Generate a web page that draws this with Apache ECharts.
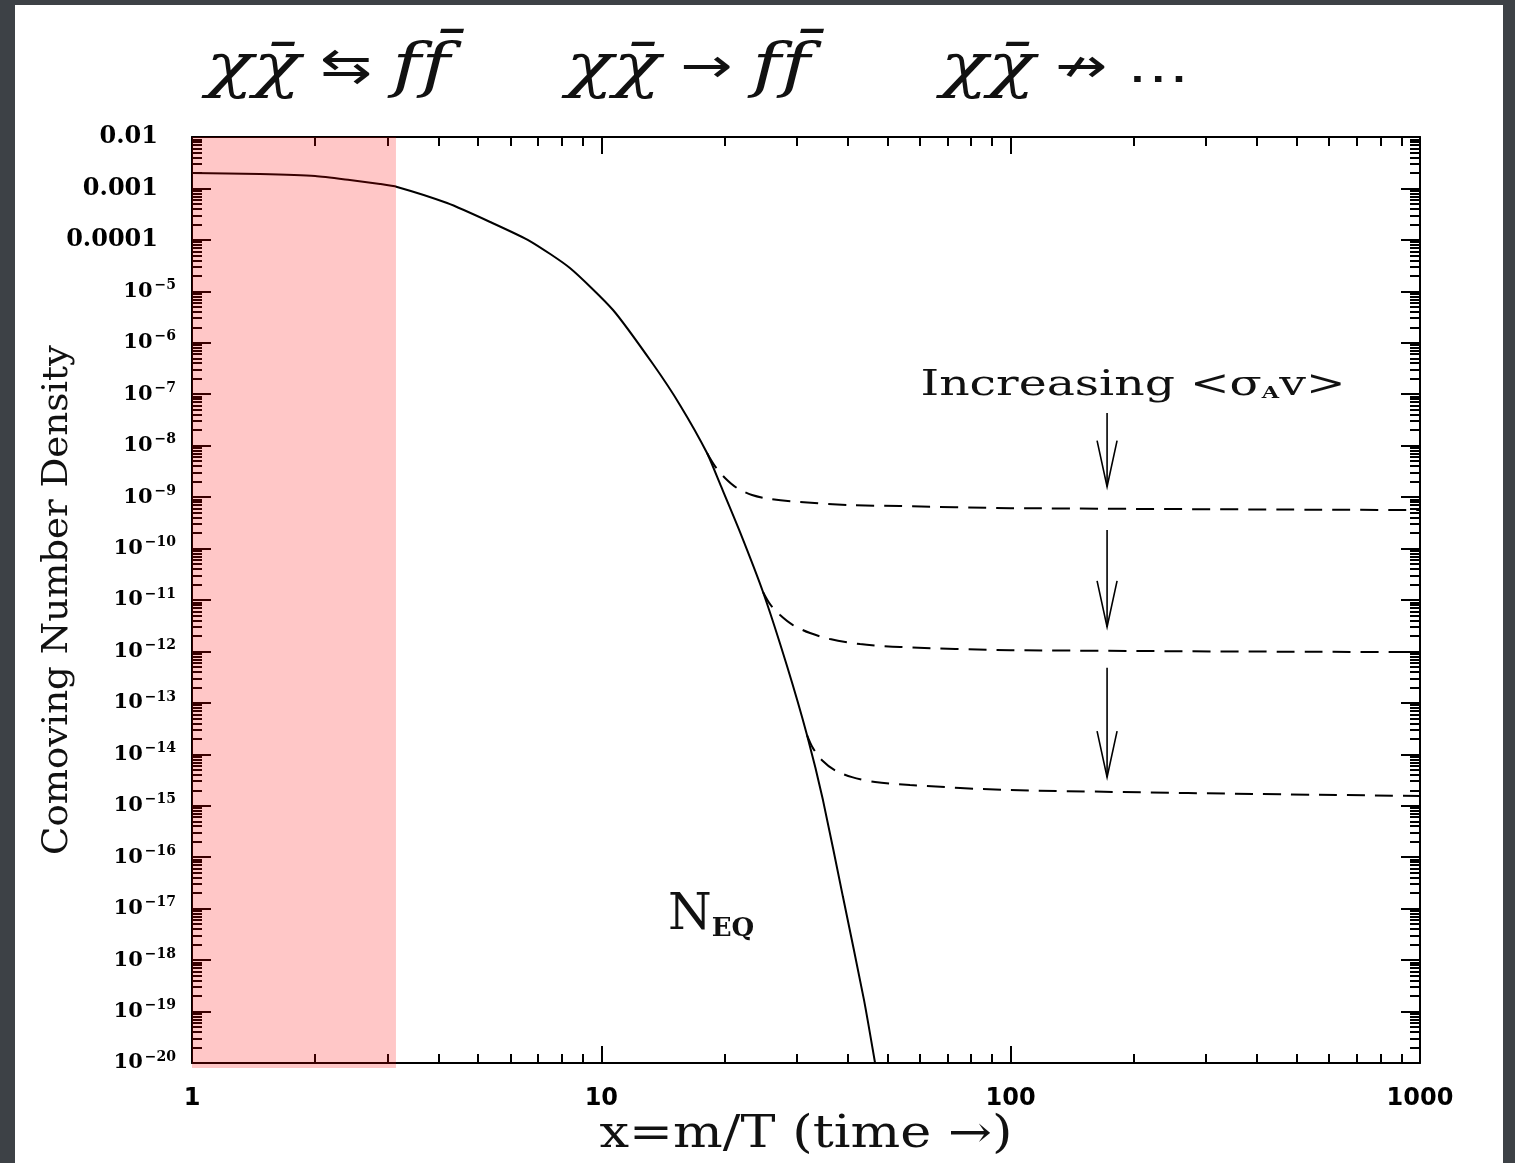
<!DOCTYPE html>
<html>
<head>
<meta charset="utf-8">
<script src="https://cdn.jsdelivr.net/npm/echarts@6/dist/echarts.min.js"></script>
<style>
html,body{margin:0;padding:0;background:#3d4146;width:1515px;height:1163px;overflow:hidden}
#panel{position:absolute;left:15px;top:5px;width:1488px;height:1158px;background:#fff}
#chart{position:absolute;left:0;top:0;width:1515px;height:1163px}
</style>
</head>
<body>
<div id="panel"></div>
<div id="chart"></div>
<script>
// ---------- data ----------
// equilibrium curve N_EQ
const eqX = [1, 1.466, 2.0, 2.43, 2.88, 3.17, 4.20, 5.35, 6.69, 8.38, 10.68, 13.37, 15.56, 18.12, 19.50, 21.82, 24.83, 28.42, 31.80, 34.79, 38.94, 43.83, 46.64];
const eqY = [2.0e-3, 1.91e-3, 1.75e-3, 1.46e-3, 1.22e-3, 1.07e-3, 5.2e-4, 2.23e-4, 9.5e-5, 2.84e-5, 4.34e-6, 3.86e-7, 6.2e-8, 7.2e-9, 1.8e-9, 2.09e-10, 1.43e-11, 5.2e-13, 2.37e-14, 1.29e-15, 1.68e-17, 1.67e-19, 1e-20];
// freeze-out curves (dashed), in order of increasing <sigma_A v>
const fo1X = [18.12, 18.95, 20.05, 21.45, 23.34, 25.83, 30.58, 40.5, 53.7, 100, 1000];
const fo1Y = [7.2e-9, 4.0e-9, 2.35e-9, 1.5e-9, 1.1e-9, 9.2e-10, 8.0e-10, 7.0e-10, 6.7e-10, 6.1e-10, 5.6e-10];
const fo2X = [24.83, 25.83, 27.33, 29.39, 32.35, 36.2, 42.86, 53.7, 100, 1000];
const fo2Y = [1.43e-11, 8.3e-12, 5.1e-12, 3.26e-12, 2.28e-12, 1.74e-12, 1.39e-12, 1.22e-12, 1.06e-12, 9.7e-13];
const fo3X = [31.8, 32.89, 34.6, 37.23, 40.97, 46.64, 56.77, 100, 1000];
const fo3Y = [2.37e-14, 1.32e-14, 7.7e-15, 4.9e-15, 3.6e-15, 2.9e-15, 2.53e-15, 2.02e-15, 1.55e-15];
// shaded (pink) band in x
const shadeRange = [1, 3.15];
// annotation arrows: x, from y, to y
const arrowX = [172, 172, 172];
const arrowFrom = [4.3e-8, 2.3e-10, 4.8e-13];
const arrowTo = [1.6e-9, 3.0e-12, 3.6e-15];
// axes
const xRange = [1, 1000];
const yRange = [1e-20, 1e-2];
const xTickValues = [1, 10, 100, 1000];
const xTickLabels = ['1', '10', '100', '1000'];
const xMinorValues = [2,3,4,5,6,7,8,9,20,30,40,50,60,70,80,90,200,300,400,500,600,700,800,900];
const yTickValues = [1e-20,1e-19,1e-18,1e-17,1e-16,1e-15,1e-14,1e-13,1e-12,1e-11,1e-10,1e-9,1e-8,1e-7,1e-6,1e-5,1e-4,1e-3,1e-2];
const yTickLabels = ['{e|10}{s|−20}','{e|10}{s|−19}','{e|10}{s|−18}','{e|10}{s|−17}','{e|10}{s|−16}','{e|10}{s|−15}','{e|10}{s|−14}','{e|10}{s|−13}','{e|10}{s|−12}','{e|10}{s|−11}','{e|10}{s|−10}','{e|10}{s|−9}','{e|10}{s|−8}','{e|10}{s|−7}','{e|10}{s|−6}','{e|10}{s|−5}','{d|0.0001}','{d|0.001}','{d|0.01}'];
const yMinorMult = [2,3,4,5,6,7,8,9];
const yMinorValues = [];
yTickValues.slice(0, -1).forEach(t => yMinorMult.forEach(m => yMinorValues.push(m * t)));

// title pieces: [style, text]  (U+200C keeps "f f̄" from forming a ligature)
const titleGroups = [
  [['c', 'χχ̄'], ['a', ' ⇆ '], ['c', 'f\u200Cf̄']],
  [['c', 'χχ̄'], ['a', ' → '], ['c', 'f\u200Cf̄']],
  [['c', 'χχ̄'], ['a', ' ↛ '], ['a', '…']]
];
const xTitle = 'x=m/T (time →)';
const yTitle = 'Comoving Number Density';

// ---------- helpers ----------
const mctx = document.createElement('canvas').getContext('2d');
function measure(font, text) { mctx.font = font; return mctx.measureText(text).width; }
function fitScale(font, text, target) { return target / measure(font, text); }
function findIdx(arr, v) {
  return arr.findIndex(t => Math.abs(Math.log10(t) - Math.log10(v)) < 1e-6);
}

const chart = echarts.init(document.getElementById('chart'), null, {renderer: 'canvas'});

const BLACK = '#000';
const tickStyle = {color: BLACK, width: 2};

function xAx(pos, major, withLabels) {
  return {
    type: 'log', logBase: 10, min: xRange[0], max: xRange[1], position: pos,
    axisLine: {show: major, onZero: false, lineStyle: {color: BLACK, width: 2}},
    axisTick: {show: true, inside: true, length: major ? 17 : 9, lineStyle: tickStyle,
               customValues: major ? xTickValues : xMinorValues},
    axisLabel: withLabels ? {
      show: true, customValues: xTickValues, margin: 24, color: BLACK,
      fontFamily: 'DejaVu Sans', fontWeight: 'bold', fontSize: 24,
      formatter: v => { const i = findIdx(xTickValues, v); return i >= 0 ? xTickLabels[i] : ''; }
    } : {show: false},
    splitLine: {show: false}, minorTick: {show: false}, minorSplitLine: {show: false}
  };
}
function yAx(pos, major, withLabels) {
  return {
    type: 'log', logBase: 10, min: yRange[0], max: yRange[1], position: pos,
    axisLine: {show: major, onZero: false, lineStyle: {color: BLACK, width: 2}},
    axisTick: {show: true, inside: true, length: major ? 19 : 10, lineStyle: tickStyle,
               customValues: major ? yTickValues : yMinorValues},
    axisLabel: withLabels ? {
      show: true, customValues: yTickValues, margin: 16, color: BLACK,
      formatter: v => { const i = findIdx(yTickValues, v); return i >= 0 ? yTickLabels[i] : ''; },
      rich: {
        e: {fontFamily: 'DejaVu Serif', fontWeight: 'bold', fontSize: 21, color: BLACK},
        s: {fontFamily: 'DejaVu Serif', fontWeight: 'bold', fontSize: 14, color: BLACK, padding: [0, 0, 12, 2]},
        d: {fontFamily: 'DejaVu Serif', fontWeight: 'bold', fontSize: 24, color: BLACK, padding: [0, 18, 0, 0]}
      }
    } : {show: false},
    splitLine: {show: false}, minorTick: {show: false}, minorSplitLine: {show: false}
  };
}

function pairs(xs, ys) { return xs.map((x, i) => [x, ys[i]]); }

const dashStyle = {color: BLACK, width: 2, type: [18, 10]};

// text fitting
const titleFonts = {
  c: 'italic 60px "DejaVu Serif", serif',
  a: '48px "DejaVu Sans", sans-serif'
};
const titleCenters = [328, 688, 1065];
const titleWidths = [255, 245, 260];
const xTitleFont = '44px "DejaVu Serif", serif';
const yTitleFont = '36px "DejaVu Serif", serif';
const incFontMain = '36px "DejaVu Serif", serif';
const incFontSub = 'bold 17px "DejaVu Serif", serif';
const incWidth = measure(incFontMain, 'Increasing <σ') + measure(incFontSub, 'A') + measure(incFontMain, 'v>');

const graphics = [];
titleGroups.forEach((g, i) => {
  const text = g.map(p => '{' + p[0] + '|' + p[1] + '}').join('');
  const w = g.reduce((s, p) => s + measure(titleFonts[p[0]], p[1]), 0);
  graphics.push({
    type: 'text', x: titleCenters[i], y: 70,
    scaleX: Math.max(0.8, Math.min(1.3, titleWidths[i] / w)),
    style: {
      text: text, align: 'center', verticalAlign: 'middle',
      rich: {
        c: {font: titleFonts.c, fill: '#111'},
        a: {font: titleFonts.a, fill: '#111'}
      }
    }
  });
});
graphics.push({
  type: 'text', x: 806, y: 1136, scaleX: fitScale(xTitleFont, xTitle, 413),
  style: {text: xTitle, font: xTitleFont, fill: '#111', align: 'center', verticalAlign: 'middle'}
});
graphics.push({
  type: 'text', x: 58, y: 600, rotation: Math.PI / 2, scaleX: fitScale(yTitleFont, yTitle, 510),
  style: {text: yTitle, font: yTitleFont, fill: '#111', align: 'center', verticalAlign: 'middle'}
});
graphics.push({
  type: 'text', x: 1133, y: 386, scaleX: 425 / incWidth,
  style: {
    text: '{m|Increasing <σ}{s|A}{m|v>}', align: 'center', verticalAlign: 'middle',
    rich: {
      m: {font: incFontMain, fill: '#111'},
      s: {font: incFontSub, fill: '#111', padding: [16, 0, 0, 0]}
    }
  }
});
graphics.push({
  type: 'text', x: 668, y: 916,
  style: {
    text: '{n|N}{s|EQ}', align: 'left', verticalAlign: 'middle',
    rich: {
      n: {font: '50px "DejaVu Serif", serif', fill: '#111'},
      s: {font: 'bold 26px "DejaVu Serif", serif', fill: '#111', padding: [26, 0, 0, 0]}
    }
  }
});

const option = {
  animation: false,
  backgroundColor: 'transparent',
  grid: {left: 192, right: 95, top: 137, bottom: 100, containLabel: false, outerBoundsMode: 'none'},
  xAxis: [xAx('bottom', true, true), xAx('bottom', false, false), xAx('top', true, false), xAx('top', false, false)],
  yAxis: [yAx('left', true, true), yAx('left', false, false), yAx('right', true, false), yAx('right', false, false)],
  graphic: graphics,
  series: [
    {type: 'line', name: 'N_EQ', data: pairs(eqX, eqY), symbol: 'none', smooth: 0.2,
     lineStyle: {color: BLACK, width: 2}, z: 2, silent: true},
    {type: 'line', name: 'fo1', data: pairs(fo1X, fo1Y), symbol: 'none', smooth: 0.3,
     lineStyle: dashStyle, z: 2, silent: true},
    {type: 'line', name: 'fo2', data: pairs(fo2X, fo2Y), symbol: 'none', smooth: 0.3,
     lineStyle: dashStyle, z: 2, silent: true},
    {type: 'line', name: 'fo3', data: pairs(fo3X, fo3Y), symbol: 'none', smooth: 0.3,
     lineStyle: dashStyle, z: 2, silent: true},
    {type: 'custom', name: 'arrows', z: 3, silent: true,
     data: arrowX.map((x, i) => [x, arrowFrom[i], arrowTo[i]]),
     encode: {x: 0, y: [1, 2]},
     renderItem: (params, api) => {
       const top = api.coord([api.value(0), api.value(1)]);
       const tip = api.coord([api.value(0), api.value(2)]);
       return {type: 'group', children: [
         {type: 'line', shape: {x1: top[0], y1: top[1], x2: tip[0], y2: tip[1]},
          style: {stroke: BLACK, lineWidth: 1.6}},
         {type: 'polyline', shape: {points: [[tip[0] - 10, tip[1] - 46], [tip[0], tip[1]], [tip[0] + 10, tip[1] - 46]]},
          style: {stroke: BLACK, lineWidth: 1.6, fill: null}}
       ]};
     }},
    {type: 'custom', name: 'shade', z: 10, silent: true,
     data: [[shadeRange[0], yRange[0], shadeRange[1], yRange[1]]],
     encode: {x: [0, 2], y: [1, 3]},
     renderItem: (params, api) => {
       const p0 = api.coord([api.value(0), api.value(3)]);
       const p1 = api.coord([api.value(2), api.value(1)]);
       return {type: 'rect', shape: {x: p0[0], y: p0[1], width: p1[0] - p0[0], height: p1[1] - p0[1] + 5},
               style: {fill: 'rgba(255,0,0,0.22)'}};
     }}
  ]
};
chart.setOption(option);
</script>
</body>
</html>
